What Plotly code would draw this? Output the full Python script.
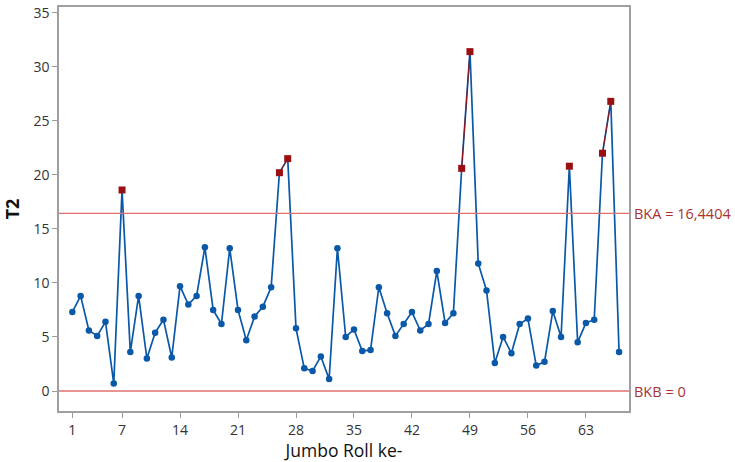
import plotly.graph_objects as go

obs = list(range(1, 68))
t2 = [7.3, 8.8, 5.6, 5.1, 6.4, 0.7, 18.6, 3.6, 8.8, 3.0,
      5.4, 6.6, 3.1, 9.7, 8.0, 8.8, 13.3, 7.5, 6.2, 13.2,
      7.5, 4.7, 6.9, 7.8, 9.6, 20.2, 21.5, 5.8, 2.1, 1.85,
      3.2, 1.1, 13.2, 5.0, 5.7, 3.7, 3.8, 9.6, 7.2, 5.1,
      6.2, 7.3, 5.6, 6.2, 11.1, 6.3, 7.2, 20.6, 31.4, 11.8,
      9.3, 2.6, 5.0, 3.5, 6.2, 6.7, 2.35, 2.7, 7.4, 5.0,
      20.8, 4.5, 6.3, 6.6, 22.0, 26.8, 3.6]
ucl = 16.4404
lcl = 0
x_ticks = [1, 7, 14, 21, 28, 35, 42, 49, 56, 63]
y_ticks = [0, 5, 10, 15, 20, 25, 30, 35]

blue = "#0A58A8"
red_pt = "#9A1010"
lim_col = "#E07070"
lab_col = "#A83232"
font_fam = "Open Sans, Noto Sans, sans-serif"

out_x = [x for x, v in zip(obs, t2) if v > ucl]
out_y = [v for v in t2 if v > ucl]
in_x = [x for x, v in zip(obs, t2) if v <= ucl]
in_y = [v for v in t2 if v <= ucl]

fig = go.Figure()
fig.add_trace(go.Scatter(x=obs, y=t2, mode="lines", line=dict(color=blue, width=1.7),
                         hoverinfo="skip", showlegend=False))
for i in range(len(t2) - 1):
    if t2[i] > ucl and t2[i + 1] > ucl:
        fig.add_trace(go.Scatter(x=[obs[i], obs[i + 1]], y=[t2[i], t2[i + 1]], mode="lines",
                                 line=dict(color=red_pt, width=1), showlegend=False))
fig.add_trace(go.Scatter(x=in_x, y=in_y, mode="markers",
                         marker=dict(color=blue, size=6.5, symbol="circle"), showlegend=False))
fig.add_trace(go.Scatter(x=out_x, y=out_y, mode="markers",
                         marker=dict(color=red_pt, size=7, symbol="square"), showlegend=False))

for val, txt in [(ucl, "BKA = 16,4404"), (lcl, "BKB = 0")]:
    fig.add_shape(type="line", xref="paper", x0=0, x1=1, y0=val, y1=val,
                  line=dict(color=lim_col, width=1.3))
    fig.add_annotation(xref="paper", x=1, y=val, text=txt, showarrow=False,
                       xanchor="left", xshift=3, font=dict(color=lab_col, size=14.5, family=font_fam))

fig.update_xaxes(range=[-0.61, 68.2], tickvals=x_ticks, ticks="outside", ticklen=5,
                 tickcolor="#999", showgrid=False, zeroline=False, showline=True,
                 linecolor="#A0A0A0", linewidth=1.5, mirror=True, automargin=False,
                 tickfont=dict(size=14, color="#333", family=font_fam),
                 title=dict(text="Jumbo Roll ke-", font=dict(size=17.5, color="#111", family=font_fam),
                            standoff=12))
fig.update_yaxes(range=[-1.85, 35.53], tickvals=y_ticks, ticks="outside", ticklen=5,
                 tickcolor="#999", showgrid=False, zeroline=False, showline=True,
                 linecolor="#A0A0A0", linewidth=1.5, mirror=True, automargin=False,
                 tickfont=dict(size=14, color="#333", family=font_fam),
                 title=dict(text="<b>T2</b>", font=dict(size=18, color="#111", family=font_fam),
                            standoff=10))
fig.update_layout(width=735, height=462, margin=dict(l=59, r=106, t=7, b=51),
                  paper_bgcolor="white", plot_bgcolor="white", showlegend=False)
fig.write_html("out.html")
